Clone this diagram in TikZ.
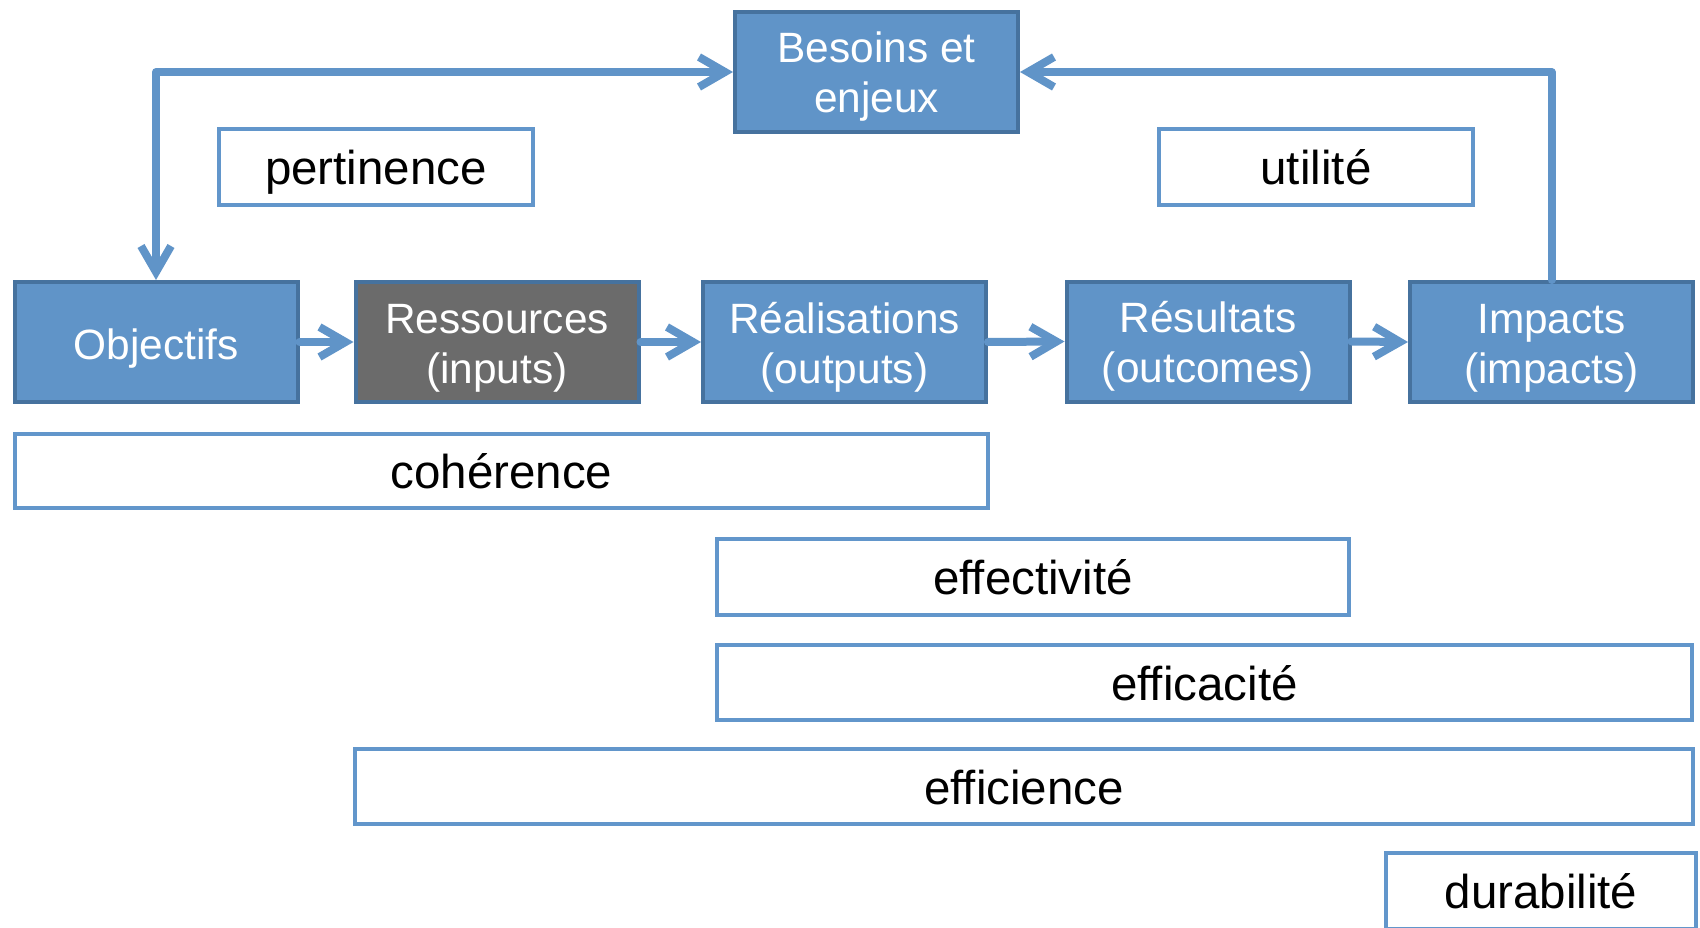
\documentclass[tikz,border=0pt]{standalone}
\usepackage{fontspec}
\setmainfont{Liberation Sans}
\usetikzlibrary{arrows.meta}
\definecolor{bfill}{RGB}{96,148,200}
\definecolor{bdraw}{RGB}{70,114,158}
\definecolor{gfill}{RGB}{107,107,107}
\definecolor{wdraw}{RGB}{98,150,203}
\tikzset{
  bluebox/.style={draw=bdraw, fill=bfill, line width=4pt, minimum width=283pt, minimum height=120pt,
    inner sep=0pt, text=white, align=center, font=\fontsize{42.4}{50}\selectfont,
    text height=82pt, text depth=0pt},
  oneline/.style={text height=34pt, text depth=0pt},
  graybox/.style={bluebox, fill=gfill},
  critbox/.style={draw=wdraw, fill=white, line width=4pt, inner sep=0pt, minimum height=75pt,
    font=\fontsize{47.5}{55}\selectfont, text=black, text height=35pt, text depth=0pt},
  tipb/.tip={Straight Barb[length=26pt,width=30pt]},
  arr/.style={draw=bfill, line width=8pt, line cap=round, line join=round, arrows={-tipb}},
  arr2/.style={draw=bfill, line width=8pt, line cap=round, line join=round, arrows={tipb-tipb}}
}
\begin{document}
\begin{tikzpicture}[x=1pt,y=-1pt]
\useasboundingbox (0,0) rectangle (1700,928);
% main boxes
\node[bluebox] (bes) at (876.5,72) {Besoins et\\enjeux};
\node[bluebox, oneline] (obj) at (156,342) {Objectifs};
\node[graybox] (res) at (497,342) {Ressources\\(inputs)};
\node[bluebox] (rea) at (844.5,342) {Réalisations\\(outputs)};
\node[bluebox] (rsl) at (1208,341.5) {Résultats\\(outcomes)};
\node[bluebox] (imp) at (1551.5,342) {Impacts\\(impacts)};
% criteria boxes
\node[critbox, minimum width=314pt, minimum height=76pt] (per) at (376,167) {pertinence};
\node[critbox, minimum width=314pt, minimum height=76pt] (uti) at (1316,167) {utilité};
\node[critbox, minimum width=973pt, minimum height=74pt] (coh) at (501.5,471) {cohérence};
\node[critbox, minimum width=632pt, minimum height=76pt] (eft) at (1033,577) {effectivité};
\node[critbox, minimum width=975pt, minimum height=75pt] (efc) at (1204.5,682.5) {efficacité};
\node[critbox, minimum width=1338pt, minimum height=75pt] (efi) at (1024,786.5) {efficience};
\node[critbox, minimum width=310pt, minimum height=76pt] (dur) at (1541,891) {durabilité};
% connectors
\draw[arr] (obj.east) -- (res.west);
\draw[arr] (res.east) -- (rea.west);
\draw[arr] (rea.east) -- (rsl.west);
\draw[arr] (rsl.east) -- (imp.west);
\draw[arr2] (bes.west) -| (obj.north);
\draw[arr] (imp.north) |- (bes.east);
\end{tikzpicture}
\end{document}
